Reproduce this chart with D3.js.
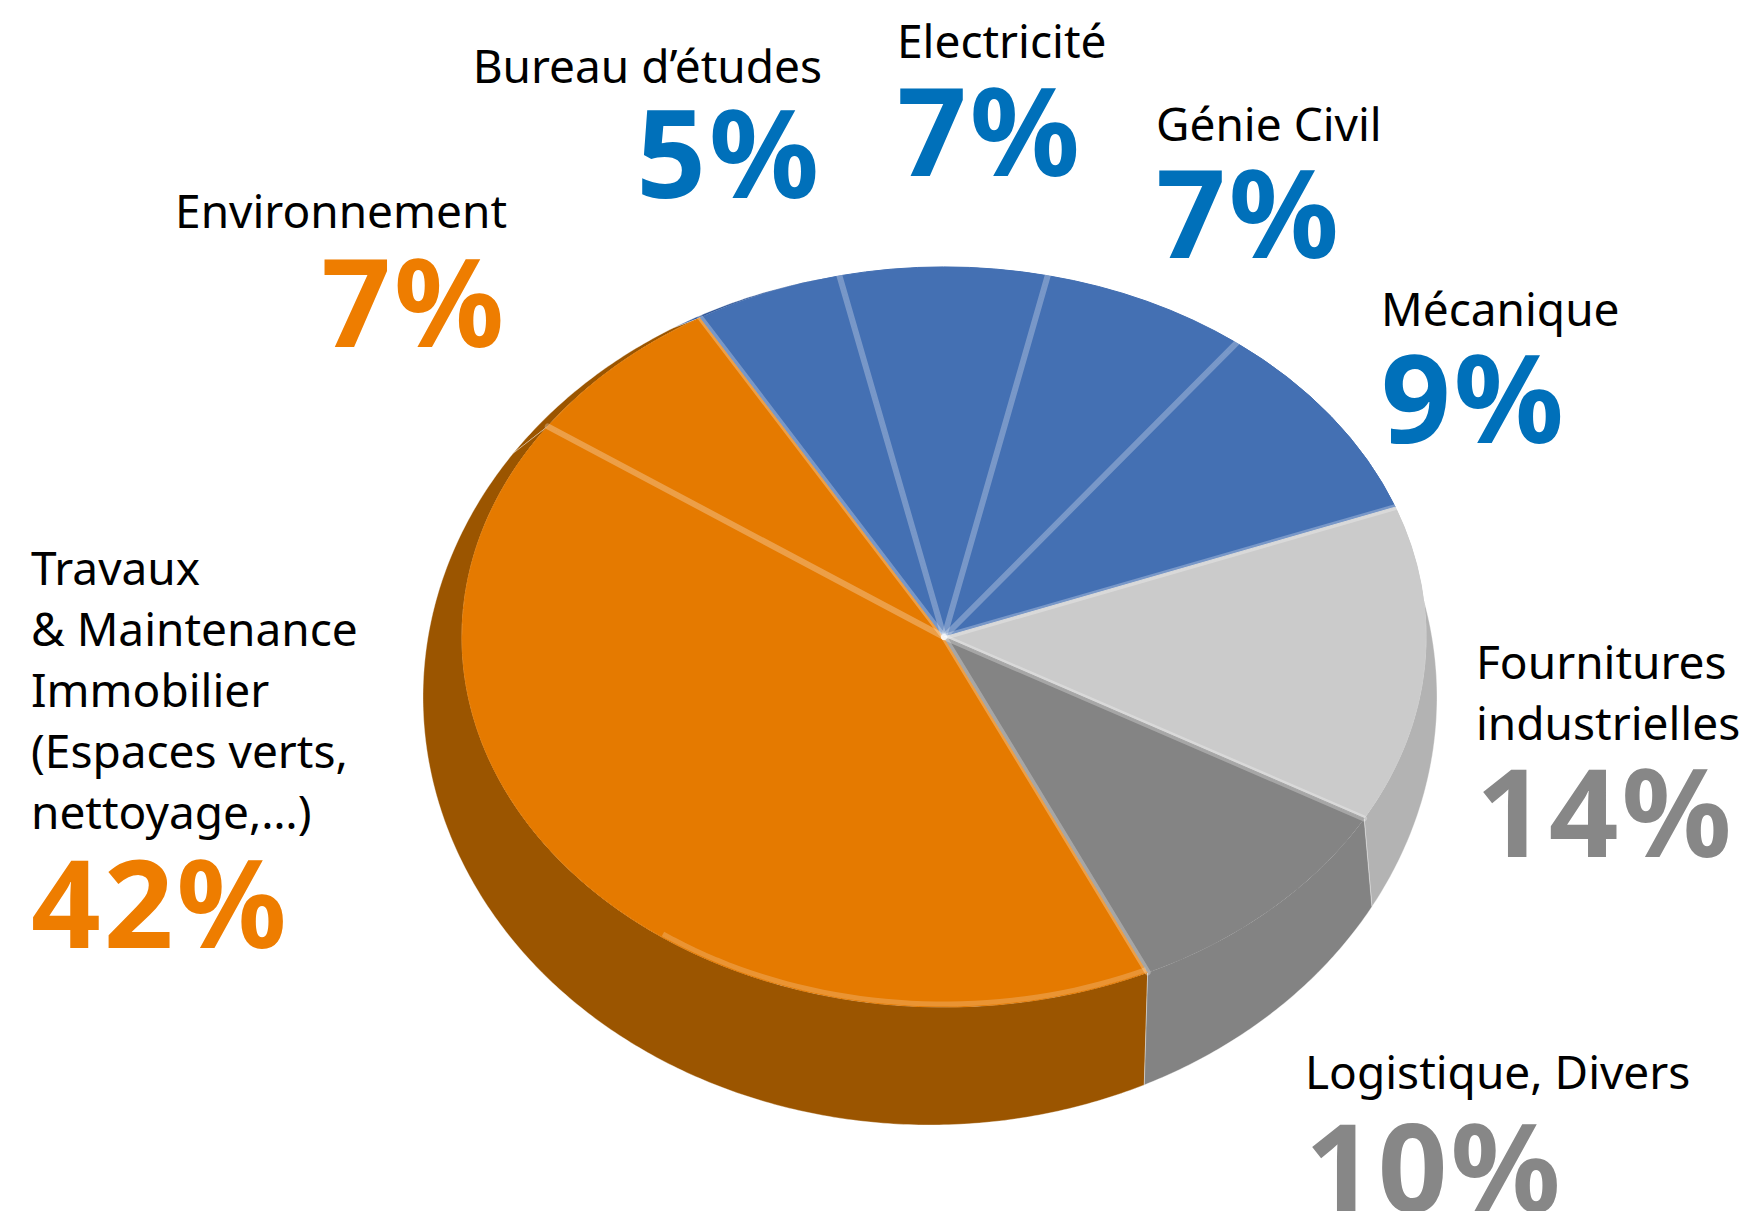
<!DOCTYPE html>
<html>
<head>
<meta charset="utf-8">
<script src="https://cdn.jsdelivr.net/npm/d3@7"></script>
<style>
    body { margin: 0; background: #ffffff; }
    svg { display: block; }
</style>
</head>
<body>
<svg id="drawing_region"></svg>
<script>
// data
const categories = ["Travaux", "Environnement", "Bureau", "Electricite", "GenieCivil", "Mecanique", "Fournitures", "Logistique"];
const labelLines = [
    ["Travaux", "& Maintenance", "Immobilier", "(Espaces verts,", "nettoyage,…)"],
    ["Environnement"],
    ["Bureau d’études"],
    ["Electricité"],
    ["Génie Civil"],
    ["Mécanique"],
    ["Fournitures", "industrielles"],
    ["Logistique, Divers"]
];
const values = [42, 7, 5, 7, 7, 9, 14, 10];
const percentLabels = ["42%", "7%", "5%", "7%", "7%", "9%", "14%", "10%"];

const data = categories.map((c, i) => ({ key: c, lines: labelLines[i], value: values[i], pct: percentLabels[i] }));

var config = {
    parent: '#drawing_region',
    width: 1746,
    height: 1211,
    top: { cx: 944, cy: 637, rx: 482, ry: 370 },
    bottom: { cx: 930, cy: 697, rx: 507, ry: 428 },
    startDeg: 155,
};

// label placement (x, first baseline, anchor, baseline of the percentage)
const labelLayout = {
    Travaux:      { x: 31,   y: 585,  anchor: 'start', py: 948 },
    Environnement:{ x: 507,  y: 228,  anchor: 'end',   py: 347 },
    Bureau:       { x: 822,  y: 83,   anchor: 'end',   py: 198 },
    Electricite:  { x: 897,  y: 58,   anchor: 'start', py: 176 },
    GenieCivil:   { x: 1156, y: 141,  anchor: 'start', py: 258 },
    Mecanique:    { x: 1381, y: 326,  anchor: 'start', py: 443 },
    Fournitures:  { x: 1476, y: 679,  anchor: 'start', py: 857 },
    Logistique:   { x: 1305, y: 1089, anchor: 'start', py: 1212 },
};

const topColor = d3.scaleOrdinal()
    .domain(categories)
    .range(["#e57a00", "#e57a00", "#4470b3", "#4470b3", "#4470b3", "#4470b3", "#cbcbcb", "#848484"]);
const sideColor = d3.scaleOrdinal()
    .domain(categories)
    .range(["#9b5500", "#9b5500", "#2f5597", "#2f5597", "#2f5597", "#2f5597", "#b3b3b3", "#838383"]);
const pctColor = d3.scaleOrdinal()
    .domain(categories)
    .range(["#ee7d00", "#ee7d00", "#0070ba", "#0070ba", "#0070ba", "#0070ba", "#878787", "#878787"]);

class Pie3D {
    constructor(config, data) {
        this.config = config;
        this.data = data;
        this.init();
    }
    init() {
        let self = this;
        self.svg = d3.select(self.config.parent)
            .attr('width', self.config.width)
            .attr('height', self.config.height);
        self.walls = self.svg.append('g');
        self.faces = self.svg.append('g')
            .attr('transform', `translate(${self.config.top.cx}, ${self.config.top.cy}) scale(1, ${self.config.top.ry / self.config.top.rx})`);
        self.ridges = self.svg.append('g');
        self.labels = self.svg.append('g')
            .attr('font-family', '"Noto Sans", sans-serif');
    }
    update() {
        let self = this;
        const a0 = self.config.startDeg * Math.PI / 180;
        self.pie = d3.pie()
            .sort(null)
            .value(d => d.value)
            .startAngle(a0)
            .endAngle(a0 + 2 * Math.PI);
        self.arcs = self.pie(self.data);
        self.arc = d3.arc()
            .innerRadius(0)
            .outerRadius(self.config.top.rx);
        self.render();
    }
    point(e, a, k = 1) {
        return [e.cx + k * e.rx * Math.sin(a), e.cy - k * e.ry * Math.cos(a)];
    }
    render() {
        let self = this;
        const T = self.config.top, B = self.config.bottom;

        const wallPath = d => {
            const n = Math.max(2, Math.ceil((d.endAngle - d.startAngle) / 0.01));
            const angs = d3.range(n + 1).map(i => d.startAngle + (d.endAngle - d.startAngle) * i / n);
            const pts = angs.map(a => self.point(T, a))
                .concat(angs.slice().reverse().map(a => self.point(B, a)));
            return d3.line()(pts) + 'Z';
        };

        const order = self.arcs.slice()
            .sort((p, q) => Math.cos((q.startAngle + q.endAngle) / 2) - Math.cos((p.startAngle + p.endAngle) / 2));

        self.walls.selectAll('path')
            .data(order)
            .join('path')
            .attr('d', wallPath)
            .attr('fill', d => sideColor(d.data.key))
            .attr('stroke', 'rgba(255,255,255,0.35)')
            .attr('stroke-width', 1);

        self.faces.selectAll('path')
            .data(self.arcs)
            .join('path')
            .attr('d', self.arc)
            .attr('fill', d => topColor(d.data.key))
            .attr('stroke', d => topColor(d.data.key))
            .attr('stroke-width', 1)
            .attr('vector-effect', 'non-scaling-stroke');

        // soft bevel highlight along the front rim
        const rim = d => {
            const a1 = Math.max(d.startAngle, Math.PI * 0.8), a2 = Math.min(d.endAngle, Math.PI * 1.2);
            if (a2 <= a1) return null;
            const angs = d3.range(41).map(i => a1 + (a2 - a1) * i / 40);
            return d3.line()(angs.map(a => self.point(T, a, 0.992)));
        };
        self.ridges.selectAll('path.rim')
            .data(self.arcs)
            .join('path')
            .attr('class', 'rim')
            .attr('d', rim)
            .attr('fill', 'none')
            .attr('stroke', 'rgba(255,255,255,0.2)')
            .attr('stroke-width', 5);

        // ridges between slices
        self.ridges.selectAll('line')
            .data(self.arcs)
            .join('line')
            .attr('x1', T.cx).attr('y1', T.cy)
            .attr('x2', d => self.point(T, d.startAngle)[0])
            .attr('y2', d => self.point(T, d.startAngle)[1])
            .attr('stroke', 'rgba(255,255,255,0.28)')
            .attr('stroke-width', 6)
            .attr('stroke-linecap', 'round');

        // labels
        const g = self.labels.selectAll('g')
            .data(self.arcs)
            .join('g');
        g.each(function(d) {
            const L = labelLayout[d.data.key];
            const sel = d3.select(this);
            sel.selectAll('text.name')
                .data(d.data.lines)
                .join('text')
                .attr('class', 'name')
                .attr('x', L.x)
                .attr('y', (t, i) => L.y + i * 61)
                .attr('text-anchor', L.anchor)
                .attr('font-size', 46)
                .attr('fill', '#000')
                .text(t => t);
            sel.append('text')
                .attr('x', L.x)
                .attr('y', L.py)
                .attr('text-anchor', L.anchor)
                .attr('font-size', 122)
                .attr('font-weight', 'bold')
                .attr('letter-spacing', 3)
                .attr('fill', pctColor(d.data.key))
                .text(d.data.pct);
        });
    }
}

const pie_chart = new Pie3D(config, data);
pie_chart.update();
</script>
</body>
</html>
